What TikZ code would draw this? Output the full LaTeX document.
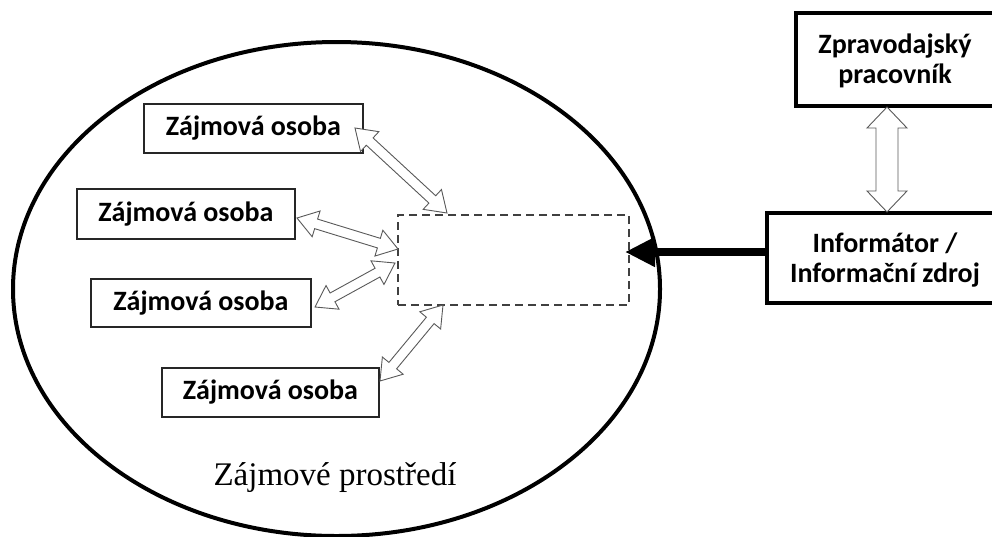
\documentclass[tikz,border=0pt]{standalone}
\usepackage{fontspec}
\setmainfont{Carlito}
\newfontfamily\timesf{Liberation Serif}
\usetikzlibrary{calc,arrows.meta,shapes.geometric}
\newcommand\dblarr[5]{% from, to, head length, head half width, shaft half width
  \draw[blockarr] (#1)
    -- ($(#1)!#3!(#2)!#4!90:(#2)$) -- ($(#1)!#3!(#2)!#5!90:(#2)$)
    -- ($(#2)!#3!(#1)!#5!-90:(#1)$) -- ($(#2)!#3!(#1)!#4!-90:(#1)$)
    -- (#2)
    -- ($(#2)!#3!(#1)!#4!90:(#1)$) -- ($(#2)!#3!(#1)!#5!90:(#1)$)
    -- ($(#1)!#3!(#2)!#5!-90:(#2)$) -- ($(#1)!#3!(#2)!#4!-90:(#2)$)
    -- cycle;}
\begin{document}
\begin{tikzpicture}[x=1pt,y=-1pt,
  person/.style={draw=black!85, line width=1.3pt, minimum width=219pt,
    minimum height=49pt, inner sep=0pt,
    font=\bfseries\fontsize{28}{30}\selectfont},
  bigbox/.style={draw, line width=4pt, inner sep=0pt},
  boxtext/.style={align=center, inner sep=0pt,
    font=\bfseries\fontsize{28}{30}\selectfont},
  blockarr/.style={draw=black!65, fill=white, line width=0.9pt, line join=miter},
  env/.style={draw, line width=4pt, ellipse, inner sep=0pt},
  focus/.style={draw=black!75, line width=2pt, dash pattern=on 8pt off 5pt},
  heavy/.style={line width=8.5pt, -{Triangle[length=30pt,width=28pt]}},
]
\useasboundingbox (0,0) rectangle (992,536);
\clip (0,0) rectangle (992,536);

% environment ellipse
\node[env, minimum width=647pt, minimum height=494pt] (envr) at (336.5,289) {};
\node[font=\timesf\fontsize{33}{38}\selectfont, anchor=base] (envlabel) at (335,485) {Zájmové prostředí};

% persons
\node[person] (p1) at (253.5,128.5) {Zájmová osoba};
\node[person, minimum width=218pt, minimum height=50pt] (p2) at (186,214) {Zájmová osoba};
\node[person, minimum width=220pt, minimum height=48pt] (p3) at (201,303) {Zájmová osoba};
\node[person, minimum width=217pt] (p4) at (270.5,392.5) {Zájmová osoba};

% dashed focus area
\node[focus, minimum width=231pt, minimum height=90pt, inner sep=0pt] (focus) at (513.5,260) {};

% right boxes (cut off by the right margin)
\node[bigbox, minimum width=260pt, minimum height=93pt] (zp) at (926,59.5) {};
\node[boxtext] (zptext) at (895,61) {Zpravodajský\\pracovník};
\node[bigbox, minimum width=290pt, minimum height=90pt] (inf) at (912,258) {};
\node[boxtext] (inftext) at (885,260) {Informátor /\\Informační zdroj};

% arrow end points
\coordinate (a1s) at (355,128);  \coordinate (a1e) at (447,213);
\coordinate (a2s) at (297,218);  \coordinate (a2e) at (398,249);
\coordinate (a3s) at (315,307);  \coordinate (a3e) at (395,263);
\coordinate (a4s) at (380,381);  \coordinate (a4e) at (443,305);
\coordinate (vs) at (887,107);   \coordinate (ve) at (887,212);
\coordinate (infw) at (769,252); \coordinate (tip) at (625,252);

\dblarr{a1s}{a1e}{20pt}{13.5pt}{5pt}
\dblarr{a2s}{a2e}{20pt}{13.5pt}{5pt}
\dblarr{a3s}{a3e}{20pt}{13.5pt}{5pt}
\dblarr{a4s}{a4e}{20pt}{13.5pt}{5pt}
\dblarr{vs}{ve}{21pt}{20pt}{11pt}

\draw[heavy] (infw) -- (tip);
\end{tikzpicture}
\end{document}
